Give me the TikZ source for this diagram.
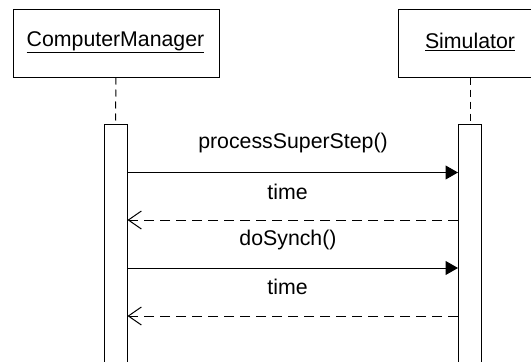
\documentclass[tikz,border=0pt]{standalone}
\usepackage{fontspec}
\setmainfont{Liberation Sans}
\usetikzlibrary{arrows.meta}
\begin{document}
\begin{tikzpicture}[x=1pt,y=-1pt,
  lbl/.style={inner sep=0pt, font=\fontsize{21.3}{25}\selectfont},
  obj/.style={draw, line width=1pt, fill=white, inner sep=0pt},
  actbar/.style={draw, line width=1pt, fill=white, inner sep=0pt, minimum width=23pt},
  life/.style={line width=1pt, dash pattern=on 7pt off 5pt},
  call/.style={line width=1pt, -{Triangle[length=12.5pt,width=14pt]}},
  ret/.style={line width=1pt, dash pattern=on 10pt off 6pt, -{Straight Barb[length=13pt,width=18pt,line width=1pt]}}]
\clip (0,0) rectangle (531,362);
\fill[white] (0,0) rectangle (531,362);
% objects
\node[obj, minimum width=206pt, minimum height=68pt] (cm) at (116,43) {};
\node[lbl] (cmt) at (115.5,42) {\underline{ComputerManager}};
\node[obj, minimum width=144pt, minimum height=68pt] (sim) at (470,43) {};
\node[lbl] (simt) at (470,42) {\underline{Simulator}};
% activation bars
\node[actbar, minimum height=250pt, anchor=north] (a1) at (115.5,124) {};
\node[actbar, minimum height=250pt, anchor=north] (a2) at (470,124) {};
% lifelines
\draw[life] (cm.south) -- (a1.north);
\draw[life] (sim.south) -- (a2.north);
% message rows
\coordinate (y1) at (0,172.5);
\coordinate (y2) at (0,220);
\coordinate (y3) at (0,268);
\coordinate (y4) at (0,316);
\draw[call] (a1.east |- y1) -- (a2.west |- y1);
\draw[ret] (a2.west |- y2) -- (a1.east |- y2);
\draw[call] (a1.east |- y3) -- (a2.west |- y3);
\draw[ret] (a2.west |- y4) -- (a1.east |- y4);
% labels
\node[lbl] (l1) at (293,143) {processSuperStep()};
\node[lbl] (l2) at (287.5,192) {time};
\node[lbl] (l3) at (288,240) {doSynch()};
\node[lbl] (l4) at (287.5,287) {time};
\end{tikzpicture}
\end{document}
